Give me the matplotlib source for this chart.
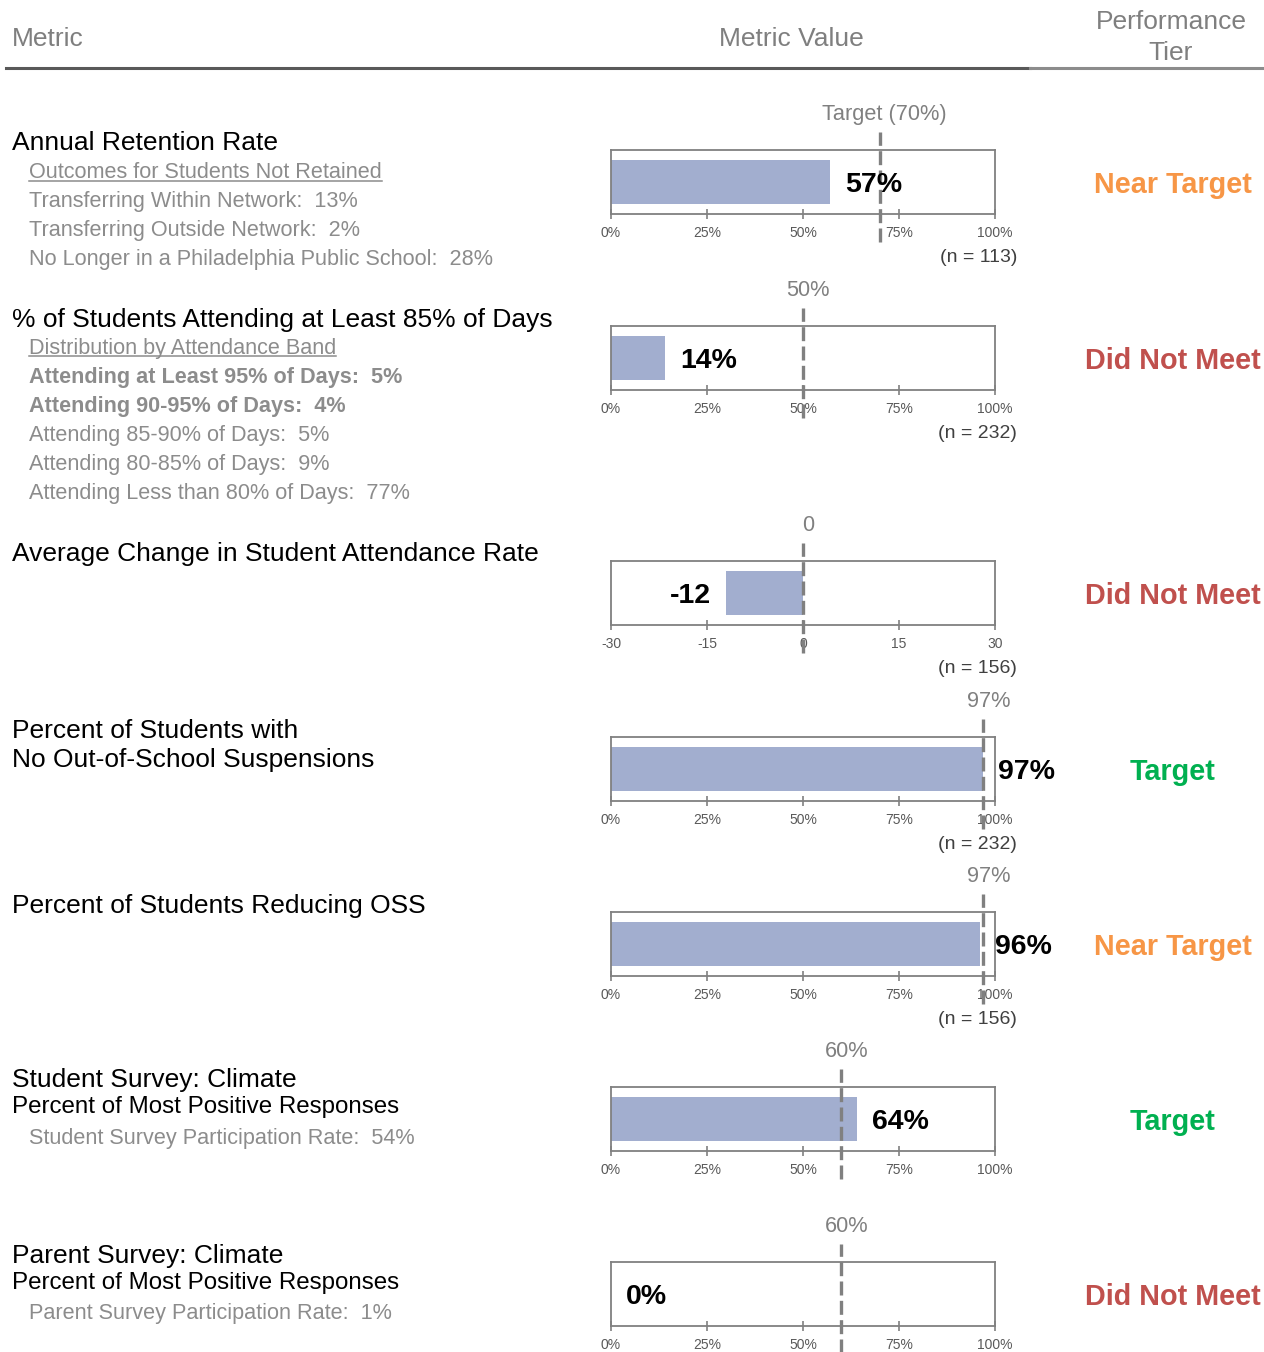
import matplotlib
matplotlib.use("Agg")
import matplotlib.pyplot as plt
from matplotlib.lines import Line2D

plt.rcParams['font.family'] = ['Liberation Sans', 'DejaVu Sans']

W, H = 1264, 1352

# --- data ---
values = [57, 14, -12, 97, 96, 64, 0]
value_labels = ['57%', '14%', '-12', '97%', '96%', '64%', '0%']
targets = [70, 50, 0, 97, 97, 60, 60]
target_labels = ['Target (70%)', '50%', '0', '97%', '97%', '60%', '60%']
n_counts = [113, 232, 156, 232, 156, None, None]
x_limits = [(0, 100), (0, 100), (-30, 30), (0, 100), (0, 100), (0, 100), (0, 100)]
pct_ticks = [0, 25, 50, 75, 100]
pct_tick_labels = ['0%', '25%', '50%', '75%', '100%']
change_ticks = [-30, -15, 0, 15, 30]
change_tick_labels = ['-30', '-15', '0', '15', '30']
tiers = ['Near Target', 'Did Not Meet', 'Did Not Meet', 'Target',
         'Near Target', 'Target', 'Did Not Meet']

# left column text: (text, style)
metric_text = [
    [('Annual Retention Rate', 'title'),
     ('Outcomes for Students Not Retained', 'head'),
     ('Transferring Within Network:  13%', 'sub'),
     ('Transferring Outside Network:  2%', 'sub'),
     ('No Longer in a Philadelphia Public School:  28%', 'sub')],
    [('% of Students Attending at Least 85% of Days', 'title'),
     ('Distribution by Attendance Band', 'head'),
     ('Attending at Least 95% of Days:  5%', 'subbold'),
     ('Attending 90-95% of Days:  4%', 'subbold'),
     ('Attending 85-90% of Days:  5%', 'sub'),
     ('Attending 80-85% of Days:  9%', 'sub'),
     ('Attending Less than 80% of Days:  77%', 'sub')],
    [('Average Change in Student Attendance Rate', 'title')],
    [('Percent of Students with', 'title'),
     ('No Out-of-School Suspensions', 'title')],
    [('Percent of Students Reducing OSS', 'title')],
    [('Student Survey: Climate', 'title'),
     ('Percent of Most Positive Responses', 'title2'),
     ('Student Survey Participation Rate:  54%', 'sub')],
    [('Parent Survey: Climate', 'title'),
     ('Percent of Most Positive Responses', 'title2'),
     ('Parent Survey Participation Rate:  1%', 'sub')],
]

# --- layout (pixels) ---
box_tops = [150, 326, 561, 737, 912, 1087, 1262]
box_h = 64
box_left, box_right = 611, 995
DY = 2.5  # shift of centred text to match visual centre

tier_colors = {'Near Target': '#f79646', 'Did Not Meet': '#c0504d', 'Target': '#00b050'}
bar_color = '#a2aecf'
gray = '#808080'

styles = {
    'title': dict(size=19, color='black', weight='normal', x=12),
    'title2': dict(size=17.4, color='black', weight='normal', x=12),
    'head': dict(size=15.6, color='#8c8c8c', weight='normal', x=29),
    'sub': dict(size=15.6, color='#8c8c8c', weight='normal', x=29),
    'subbold': dict(size=15.6, color='#8c8c8c', weight='bold', x=29),
}


def line_gap(prev, cur):
    if cur == 'title2':
        return 27
    if prev == 'title2':
        return 31
    return 29


def fx(x):
    return x / W


def fy(y):
    return 1 - y / H


fig = plt.figure(figsize=(W / 100, H / 100), dpi=100)

# header
fig.text(fx(12), fy(36 + DY), 'Metric', fontsize=19, color='#7f7f7f', ha='left', va='center')
fig.text(fx(791), fy(36 + DY), 'Metric Value', fontsize=19, color='#7f7f7f', ha='center', va='center')
fig.text(fx(1171), fy(35 + DY), 'Performance\nTier', fontsize=19, color='#7f7f7f',
         ha='center', va='center', linespacing=1.35)
fig.add_artist(Line2D([fx(6), fx(1030)], [fy(68), fy(68)], color='#595959', lw=2.2))
fig.add_artist(Line2D([fx(1030), fx(1264)], [fy(68), fy(68)], color='#8c8c8c', lw=2.2))

underline_items = []

for i in range(len(values)):
    top = box_tops[i]
    ax = fig.add_axes([fx(box_left), fy(top + box_h), (box_right - box_left) / W, box_h / H])
    lo, hi = x_limits[i]
    ax.set_xlim(lo, hi)
    ax.set_ylim(0, 1)
    ax.barh(0.5, values[i], height=0.69, color=bar_color, zorder=2)
    for sp in ax.spines.values():
        sp.set_color(gray)
        sp.set_linewidth(1.3)
    ax.set_yticks([])
    if lo < 0:
        ax.set_xticks(change_ticks)
        ax.set_xticklabels(change_tick_labels)
    else:
        ax.set_xticks(pct_ticks)
        ax.set_xticklabels(pct_tick_labels)
    ax.tick_params(axis='x', direction='inout', length=7, width=1.2, color=gray,
                   labelsize=10, labelcolor='#595959', pad=5)

    # target line
    ax.axvline(targets[i], ymin=-28 / box_h, ymax=1 + 18 / box_h, color=gray, lw=2.4,
               linestyle=(0, (4.2, 1.6)), clip_on=False, zorder=3)
    ax.annotate(target_labels[i], xy=(targets[i], 1), xycoords=('data', 'axes fraction'),
                xytext=(3.6, 25.5), textcoords='offset points', ha='center', va='center',
                fontsize=15.7, color=gray, annotation_clip=False)

    # value label
    off = 10.8 if values[i] >= 0 else -10.8
    ax.annotate(value_labels[i], xy=(values[i], 0.5), xycoords=('data', 'axes fraction'),
                xytext=(off, -2.0), textcoords='offset points',
                ha='left' if values[i] >= 0 else 'right', va='center',
                fontsize=20.5, fontweight='bold', color='black', zorder=5,
                annotation_clip=False)

    if n_counts[i] is not None:
        ax.annotate(f'(n = {n_counts[i]})', xy=(1, 0), xycoords='axes fraction',
                    xytext=(15.8, -31.5), textcoords='offset points', ha='right', va='center',
                    fontsize=14, color='#404040', annotation_clip=False)

    fig.text(fx(1173), fy(top + box_h / 2 + DY + 0.5), tiers[i], fontsize=20.7, fontweight='bold',
             color=tier_colors[tiers[i]], ha='center', va='center')

    # left column
    y = top - 9
    prev = None
    for j, (txt, st) in enumerate(metric_text[i]):
        if j > 0:
            y += line_gap(prev, st)
        s = styles[st]
        t = fig.text(fx(s['x']), fy(y + DY), txt, fontsize=s['size'], color=s['color'],
                     fontweight=s['weight'], ha='left', va='center')
        if st == 'head':
            underline_items.append((t, y, s['color']))
        prev = st

fig.canvas.draw()
renderer = fig.canvas.get_renderer()
for t, y, c in underline_items:
    bb = t.get_window_extent(renderer)
    fig.add_artist(Line2D([bb.x0 / W, bb.x1 / W], [fy(y + 10.5), fy(y + 10.5)], color=c, lw=1.1))

fig.savefig('out.png', dpi=100)
